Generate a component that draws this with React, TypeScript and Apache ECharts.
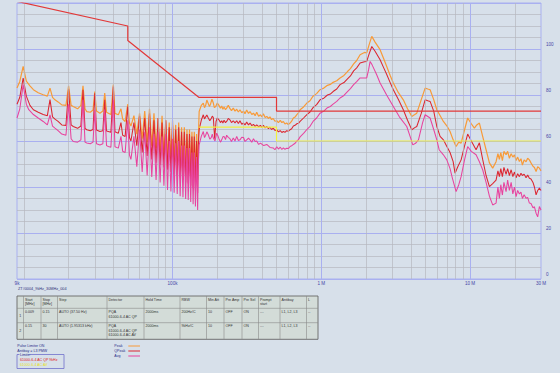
import React, { useEffect, useRef } from 'react';
import * as echarts from 'echarts';

// Frequencies in kHz, levels in dBµV
const xTickValues = [9, 100, 1000, 10000, 30000];
const xTickLabels = ['9k', '100k', '1 M', '10 M', '30 M'];
const majorGridFreqs = [100, 1000, 10000];
const minorGridFreqs = [10, 20, 30, 40, 50, 60, 70, 80, 90, 200, 300, 400, 500, 600, 700, 800, 900, 2000, 3000, 4000, 5000, 6000, 7000, 8000, 9000, 20000];

const qpLimit: [number, number][] = [[9, 120.7], [50, 110], [50, 103.7], [150, 79], [500, 79], [500, 73], [30000, 73]];
const avLimit: [number, number][] = [[150, 66], [500, 66], [500, 60], [30000, 60]];

const peakTrace: [number, number][] = [
  [9, 83], [9.4, 85.9], [9.9, 92.4], [10.4, 86], [11, 84], [11.6, 82.3], [12.5, 81], [13.5, 80.1], [14.4, 79.5], [15, 83], [15.6, 79], [16.2, 77.9], [17, 77], [18, 75.7], [19.2, 75.5], [20, 84], [20.8, 75.5], [21.5, 75], [23, 74], [24.2, 75.5], [25, 84], [25.8, 74], [26.5, 72.8], [28, 72.5], [29.2, 73.5], [30, 81.5], [30.8, 73], [32.5, 72.1], [34, 73], [35, 80.8], [36, 72.5], [37, 72.1], [38.5, 71.5], [40, 84.5], [41, 72], [43.2, 71.4], [45, 74], [46.2, 69.5], [48, 68.5], [50, 76], [51.3, 68], [52.5, 66.5],
  [55, 71], [57.5, 63], [60, 72], [62.5, 61], [65, 73], [67.5, 59.5], [70, 74], [72.5, 58], [75, 72], [77.5, 57], [80, 70], [82.5, 55.5], [85, 71], [87.5, 54], [90, 69], [92.5, 53], [95, 68], [97.5, 52], [100, 69], [102.5, 51], [105, 67], [107.5, 50], [110, 68], [112.5, 49], [115, 66], [117.5, 48.5], [120, 66], [122.5, 47.5], [125, 65], [127.5, 46.5], [130, 65], [132.5, 46], [135, 64], [137.5, 45], [140, 64], [142.5, 44], [145, 63], [147.5, 43], [149, 61],
  [151, 72.8], [156, 75.5], [161, 76.5], [164, 74.5], [167, 75.5], [170, 77.8], [174, 76.2], [177, 75], [180, 76], [184, 78.2], [188, 76.5], [191, 74.5], [195, 75], [200, 76.5], [205, 75.5], [210, 74.2], [214, 75.2], [218, 73.8], [222, 74.8], [227, 73.6], [231, 74.3], [237, 75.5], [243, 74.2], [249, 73.2], [256, 74.3], [263, 73], [270, 73.8], [277, 72.6], [284, 73.6], [292, 72.3], [300, 73], [307, 71.9], [315, 73.5], [324, 72], [332, 72.8], [341, 71.5], [350, 72.1], [359, 71], [368, 72.5], [379, 70.8], [390, 71.4], [399, 70.5], [408, 71.8], [419, 70.2], [430, 70.7], [441, 69.8], [452, 70.5], [463, 69.3], [475, 69.8], [488, 68.6], [502, 68.8], [515, 68], [530, 69], [543, 68], [556, 68.5], [570, 67.4], [585, 67.8], [600, 67.2], [617, 67.8], [632, 68.6], [649, 70], [666, 70.4], [685, 71.5], [702, 72.2], [720, 73.6], [760, 74.8], [800, 76.5], [840, 77.5], [880, 79.5], [930, 80.6], [981, 82.3], [1040, 83], [1100, 84.2], [1150, 84.6], [1200, 85.5], [1270, 86.2], [1337, 87.4], [1420, 88.5], [1500, 90.2], [1570, 91.5], [1650, 93.5], [1730, 95], [1823, 97.5], [1950, 98.5], [2020, 98.3], [2100, 102], [2185, 105.5], [2300, 103], [2485, 99.7], [2620, 96], [2750, 92.5], [2900, 88.6], [3050, 85.2], [3300, 81], [3560, 77.9], [3800, 74], [4060, 70.7], [4250, 71.5], [4385, 72.1], [4700, 78], [4990, 83], [5200, 82.6], [5390, 82.3], [5700, 78], [5980, 73.6], [6300, 71], [6620, 68.5], [7000, 66.5], [7340, 64.1], [7700, 60.5], [8060, 57.6], [8400, 59.5], [8710, 59.1], [9200, 65], [9640, 70], [10200, 67.5], [10700, 65.6], [11100, 67], [11560, 67.8], [12160, 62], [12820, 56.2], [13500, 50.5], [14200, 48.2], [14960, 51], [15400, 54.5], [15750, 52], [16100, 55], [16500, 51.5], [16900, 55.5], [17470, 54], [17900, 55.5], [18390, 52.5], [18900, 54.5], [19400, 53], [19900, 54], [20400, 51.5], [20900, 53], [21470, 51.1], [22000, 52.3], [22500, 49.5], [23100, 51.8], [23800, 51], [24400, 52.5], [25060, 51.8], [25700, 50.5], [26500, 49], [27100, 48.5], [27800, 46.7], [28500, 48.8], [29260, 48.2], [30000, 47]
];

const qpeakTrace: [number, number][] = [
  [9, 76], [9.4, 79], [9.9, 87.4], [10.4, 79.5], [11, 75.5], [11.6, 73.6], [12.5, 72.5], [13.5, 71.5], [14.4, 71], [15, 78], [15.6, 70.5], [16.2, 69.5], [17, 68.5], [18, 67], [19.2, 66.8], [20, 82.5], [20.8, 67], [21.5, 66.3], [23, 65.5], [24.2, 66.5], [25, 82.3], [25.8, 65.5], [26.5, 64.9], [28, 64.5], [29.2, 65], [30, 80.8], [30.8, 64.8], [32.5, 64.1], [34, 64.5], [35, 77.9], [36, 64.3], [37, 64.1], [38.5, 63.8], [40, 83.7], [41, 64], [43.2, 63.4], [45, 68], [46.2, 62.5], [48, 62], [50, 75], [51.3, 61.5], [52.5, 60],
  [55, 68], [57.5, 58], [60, 71], [62.5, 55], [65, 70], [67.5, 53.5], [70, 72], [72.5, 52], [75, 69], [77.5, 50.5], [80, 70], [82.5, 49.5], [85, 68], [87.5, 48.5], [90, 69], [92.5, 47.5], [95, 66], [97.5, 46.5], [100, 67], [102.5, 45.5], [105, 65], [107.5, 45], [110, 66], [112.5, 44], [115, 64], [117.5, 43], [120, 64], [122.5, 42], [125, 63], [127.5, 41.5], [130, 63], [132.5, 40.5], [135, 62], [137.5, 39.5], [140, 62], [142.5, 38.5], [145, 60], [147.5, 37.4], [149, 58],
  [151, 65], [156, 69], [161, 71.4], [164, 69.6], [167, 70.5], [170, 71.3], [174, 70], [178, 68.8], [182, 69.8], [185, 70.8], [188, 70.2], [192, 61], [196, 68.5], [200, 70], [205, 69.2], [210, 68], [214, 68.8], [218, 67.8], [222, 69], [227, 68], [231, 68.5], [237, 69.8], [243, 69.2], [249, 68], [256, 68.8], [263, 67.9], [270, 68.8], [277, 67.6], [284, 68.8], [292, 67.3], [300, 67.8], [307, 67], [315, 68.2], [324, 67], [332, 67.8], [341, 66.7], [350, 67.2], [359, 66.4], [368, 67], [379, 66.2], [390, 66.8], [399, 65.9], [408, 66.8], [419, 65.7], [430, 66.3], [441, 65.4], [452, 66], [463, 65], [475, 65.6], [488, 64.6], [502, 64.8], [515, 64], [530, 64.5], [543, 63.7], [556, 64.1], [570, 63.8], [585, 64.5], [600, 64.2], [617, 64.9], [632, 65.3], [649, 66.5], [666, 66.8], [685, 67.5], [702, 67.7], [720, 68.5], [760, 70], [800, 71.5], [840, 72.6], [880, 74.5], [930, 75.8], [981, 77.9], [1040, 78.6], [1100, 80], [1150, 80.4], [1200, 81.5], [1270, 82.6], [1337, 84.5], [1420, 85.4], [1500, 87], [1570, 88.3], [1650, 90.5], [1730, 91.8], [1823, 93.9], [1950, 94.5], [2020, 94.6], [2100, 98], [2185, 101.1], [2300, 99], [2485, 95.3], [2620, 92], [2750, 89], [2900, 85.5], [3050, 82.3], [3300, 78], [3560, 73.6], [3800, 69], [4060, 64.9], [4250, 65.8], [4385, 66.3], [4700, 72], [4990, 77.9], [5200, 77.5], [5390, 77.2], [5700, 73], [5980, 66.3], [6290, 62], [6620, 60.5], [7000, 57.5], [7340, 55], [7700, 51], [7930, 46], [8300, 49], [8710, 51.8], [9200, 58], [9640, 63], [10200, 60], [10980, 56.2], [11560, 59.2], [12160, 52], [12820, 45], [13500, 40.2], [14200, 41.5], [14960, 43], [15400, 47], [15750, 44.5], [16100, 48], [16500, 44.5], [16900, 48.5], [17470, 45.5], [17900, 48], [18390, 45], [18900, 47.5], [19400, 44.5], [19900, 46.5], [20400, 44], [20900, 45.8], [21470, 44.5], [22000, 46], [22500, 45], [23100, 45.6], [23800, 44], [24400, 45.2], [25060, 43.8], [25700, 43.5], [26500, 42], [27100, 40], [27800, 36.6], [28500, 38.5], [29260, 39.5], [30000, 38.5]
];

const avgTrace: [number, number][] = [
  [9, 70], [9.4, 74], [9.9, 84.5], [10.4, 76], [10.8, 73.6], [11.6, 71.5], [12.5, 70], [13.5, 68.5], [14.4, 67], [15, 71.4], [15.6, 66.5], [16.2, 65.6], [17, 64.5], [18, 63], [19.2, 62.5], [20, 76], [20.8, 61], [21.5, 59.8], [23, 59.5], [24.2, 60.5], [25, 77.9], [25.8, 59.5], [26.5, 59.1], [28, 58.8], [29.2, 59.5], [30, 73.6], [30.8, 58.8], [32.5, 58.3], [34, 58.8], [35, 73.6], [36, 58], [37, 57.6], [38.5, 57.3], [40, 77.9], [41, 57.5], [43.2, 56.9], [45, 62], [46.2, 55.5], [48, 55], [50, 69], [51.3, 54], [52.5, 52],
  [55, 62], [57.5, 48.8], [60, 65], [62.5, 46.5], [65, 64], [67.5, 45], [70, 66], [72.5, 44.4], [75, 63], [77.5, 43], [80, 64], [82.5, 42], [85, 62], [87.5, 40.5], [90, 63], [92.5, 38.7], [95, 60], [97.5, 38], [100, 61], [102.5, 37.5], [105, 59], [107.5, 37], [110, 60], [112.5, 36], [115, 58], [117.5, 35.5], [120, 58], [122.5, 34.8], [125, 57], [127.5, 34.4], [130, 57], [132.5, 33.5], [135, 55], [137.5, 32.5], [140, 55], [142.5, 31.5], [145, 53], [147.5, 30], [149, 50],
  [151, 58.3], [156, 62], [161, 64.1], [164, 61.5], [167, 62.5], [170, 64], [174, 62.7], [178, 60.8], [182, 61.5], [185, 63], [188, 61.3], [193, 60], [198, 63.4], [202, 62.2], [205, 61], [210, 59.5], [214, 60.5], [218, 61.8], [222, 62], [227, 60.6], [231, 62.5], [237, 61.6], [243, 61], [249, 59.8], [256, 61.3], [263, 60], [270, 62], [277, 60.2], [284, 60.5], [292, 61.6], [300, 61.5], [307, 59.8], [315, 60.5], [324, 61.2], [332, 60.5], [341, 59.5], [350, 61], [359, 59.8], [368, 60], [379, 58.5], [390, 59.1], [410, 58], [430, 58.5], [452, 57.2], [475, 57], [488, 56.2], [502, 57.5], [515, 56.5], [530, 57.3], [543, 56.3], [556, 57], [570, 56.4], [586, 56.9], [600, 56.7], [617, 57.6], [632, 57.9], [649, 58.5], [666, 59], [685, 60], [702, 60.6], [720, 61.8], [760, 63.3], [800, 65], [840, 66.4], [880, 68.5], [930, 70], [981, 72.1], [1040, 73], [1100, 74.5], [1150, 75], [1200, 76], [1270, 77.2], [1337, 78.7], [1420, 79.8], [1500, 81.5], [1570, 82.8], [1650, 84.5], [1730, 85.8], [1823, 87.4], [2020, 87.4], [2080, 91], [2130, 94.6], [2200, 93], [2350, 89], [2485, 85.2], [2750, 80], [3050, 75], [3350, 70.5], [3755, 66.3], [4000, 61], [4120, 58.3], [4300, 59], [4500, 60.5], [4800, 68], [4990, 71.4], [5390, 70], [5700, 65], [5980, 60.5], [6200, 56.2], [6620, 54], [6980, 51.8], [7340, 48], [7600, 44], [8060, 38], [8400, 41], [8710, 44.5], [9200, 52], [9640, 57.6], [10200, 55.5], [10980, 54], [11560, 51], [12160, 47.5], [12820, 42], [13500, 36], [14200, 32.2], [14960, 33], [15400, 40], [15750, 35], [16100, 41], [16500, 36.5], [16900, 42], [17470, 38], [17900, 43], [18390, 38.5], [18900, 42], [19400, 37], [19900, 40], [20400, 35.8], [20900, 38.5], [21470, 37], [22000, 37.8], [22500, 35], [23100, 36.6], [23800, 35.1], [24400, 35.5], [25060, 33], [25700, 32.8], [26500, 31], [27100, 31.4], [27800, 28.6], [28500, 27], [29260, 31.5], [30000, 30]
];

// Settings table
const tableHeaders = ['', 'Start\n[MHz]', 'Stop\n[MHz]', 'Step', 'Detector', 'Hold Time', 'RBW', 'Min Att', 'Pre Amp', 'Pre Sel', 'Prompt\nstart', 'Antibay', 'L'];
const tableRow1 = ['1', '0.009', '0.15', 'AUTO (37.50 Hz)', 'PQA\n61000-6-4 AC QP', '2000ms', '200Hz/C', '10', 'OFF', 'ON', '---', 'L1, L2, L3', '--'];
const tableRow2 = ['2', '0.15', '30', 'AUTO (1.95313 kHz)', 'PQA\n61000-6-4 AC QP\n61000-6-4 AC AV', '2000ms', '9kHz/C', '10', 'OFF', 'ON', '---', 'L1, L2, L3', '--'];
const legendNames = ['Peak', 'QPeak', 'Avg'];
const limitNames = ['61000-6-4 AC QP 9kHz', '61000-6-4 AC AV'];
const fileName = 'ZT#0004_9kHz_30MHz_004';
const infoLines = ['Pulse Limiter ON', 'Antibay = L3 PMW'];

const COL_X = [17, 23.5, 41, 57.5, 107, 144, 180, 206.5, 224, 242, 258.5, 280, 306.5, 318];
const ROW_Y = [296, 308.3, 322.7, 339.3];
const FONT = 'Liberation Sans, Arial, sans-serif';
const COLORS = { peak: '#f89a38', qp: '#dc2630', avg: '#e8439e', qpLim: '#e23838', avLim: '#f2f040' };
const GRID_MAJOR = '#a9b0f0';
const GRID_MINOR = '#b6b7be';

function txt(x: number, y: number, text: string, fill: string, size = 3.6, align = 'left', valign = 'top') {
  return {
    type: 'text', x, y, silent: true,
    style: { text, fill, fontSize: size, fontFamily: FONT, lineHeight: size * 1.25, align, verticalAlign: valign, textAlign: align, textVerticalAlign: valign },
  };
}

function buildGraphics() {
  const els: any[] = [];
  const left = COL_X[0], right = COL_X[COL_X.length - 1], top = ROW_Y[0], bottom = ROW_Y[ROW_Y.length - 1];
  els.push({ type: 'rect', silent: true, shape: { x: left, y: top, width: right - left, height: bottom - top }, style: { fill: '#d3dcd8', stroke: '#666', lineWidth: 0.9 } });
  COL_X.slice(1, -1).forEach((cx) => els.push({ type: 'line', silent: true, shape: { x1: cx, y1: top, x2: cx, y2: bottom }, style: { stroke: '#8a8a8a', lineWidth: 0.6 } }));
  ROW_Y.slice(1, -1).forEach((ry) => els.push({ type: 'line', silent: true, shape: { x1: left, y1: ry, x2: right, y2: ry }, style: { stroke: '#8a8a8a', lineWidth: 0.6 } }));
  const rows = [tableHeaders, tableRow1, tableRow2];
  rows.forEach((row, ri) => {
    row.forEach((cell, ci) => {
      if (!cell) return;
      if (ci === 0) {
        els.push(txt((COL_X[0] + COL_X[1]) / 2, (ROW_Y[ri] + ROW_Y[ri + 1]) / 2, cell, '#333', 3.6, 'center', 'middle'));
      } else {
        els.push(txt(COL_X[ci] + 1.5, ROW_Y[ri] + 1.5, cell, '#333'));
      }
    });
  });
  els.push(txt(18, 286.2, fileName, '#303078', 3.8));
  infoLines.forEach((l, i) => els.push(txt(17.3, 344.2 + i * 5, l, '#2a2a88')));
  const legColors = [COLORS.peak, COLORS.qp, COLORS.avg];
  legendNames.forEach((n, i) => {
    const y = 346 + i * 5;
    els.push(txt(114.3, y, n, '#2a2a88', 3.6, 'left', 'middle'));
    els.push({ type: 'line', silent: true, shape: { x1: 128.3, y1: y, x2: 140, y2: y }, style: { stroke: legColors[i], lineWidth: 1 } });
  });
  els.push({ type: 'rect', silent: true, shape: { x: 17, y: 354.5, width: 47, height: 14 }, style: { fill: 'none', stroke: '#7070cc', lineWidth: 0.8 } });
  els.push({ type: 'rect', silent: true, shape: { x: 19.5, y: 353, width: 9, height: 3 }, style: { fill: '#d7e0ea' } });
  els.push(txt(20, 354.5, 'Limits:', '#2a2a88', 3.6, 'left', 'middle'));
  els.push(txt(20, 358.2, limitNames[0], '#e02020'));
  els.push(txt(20, 362.6, limitNames[1], '#e8e020'));
  return els;
}

export default function App() {
  const ref = useRef<HTMLDivElement>(null);
  useEffect(() => {
    document.body.style.margin = '0';
    const chart = echarts.init(ref.current!, null, { renderer: 'svg' });
    const lineSeries = (name: string, data: [number, number][], color: string, width: number, z: number) => ({
      name, type: 'line', data, showSymbol: false, symbol: 'none', z, clip: true,
      lineStyle: { color, width }, itemStyle: { color }, emphasis: { disabled: true }, silent: true,
    });
    chart.setOption({
      animation: false,
      backgroundColor: '#d7e0ea',
      grid: { left: 17, right: 19, top: 3, bottom: 94, show: true, borderColor: GRID_MAJOR, borderWidth: 1, backgroundColor: 'transparent' },
      xAxis: {
        type: 'log', logBase: 10, min: 9, max: 30000,
        axisLine: { show: false }, axisTick: { show: false }, splitLine: { show: false },
        axisLabel: {
          fontSize: 4.6, color: '#4646a8', fontFamily: FONT, margin: 2, interval: 0, showMinLabel: true, showMaxLabel: true,
          formatter: (v: number) => {
            const i = xTickValues.findIndex((t) => Math.abs(Math.log10(t) - Math.log10(v)) < 1e-6);
            return i >= 0 ? xTickLabels[i] : '';
          },
        },
      },
      yAxis: {
        type: 'value', position: 'right', min: 0, max: 120, interval: 20,
        axisLine: { show: false }, axisTick: { show: false },
        axisLabel: { fontSize: 4.6, color: '#4646a8', fontFamily: FONT, margin: 5, showMaxLabel: false, verticalAlign: 'bottom', padding: [0, 0, 2, 0] },
        splitLine: { show: true, lineStyle: { color: GRID_MAJOR, width: 1 } },
        minorTick: { show: false, splitNumber: 4 },
        minorSplitLine: { show: true, lineStyle: { color: GRID_MINOR, width: 0.7 } },
      },
      series: [
        {
          name: 'grid', type: 'line', data: [], z: 1, silent: true,
          markLine: {
            silent: true, symbol: ['none', 'none'], label: { show: false }, animation: false,
            data: [
              ...minorGridFreqs.map((f) => ({ xAxis: f, lineStyle: { color: GRID_MINOR, width: 0.7, type: 'solid' } })),
              ...majorGridFreqs.map((f) => ({ xAxis: f, lineStyle: { color: GRID_MAJOR, width: 1, type: 'solid' } })),
            ],
          },
        },
        lineSeries('Peak', peakTrace, COLORS.peak, 1.2, 3),
        lineSeries('QPeak', qpeakTrace, COLORS.qp, 1.05, 4),
        lineSeries('Avg', avgTrace, COLORS.avg, 1.05, 5),
        lineSeries('61000-6-4 AC QP 9kHz', qpLimit, COLORS.qpLim, 1.2, 6),
        lineSeries('61000-6-4 AC AV', avLimit, COLORS.avLim, 1.2, 6),
      ],
      graphic: buildGraphics(),
    });
    return () => chart.dispose();
  }, []);
  return <div ref={ref} style={{ width: 560, height: 373 }} />;
}
